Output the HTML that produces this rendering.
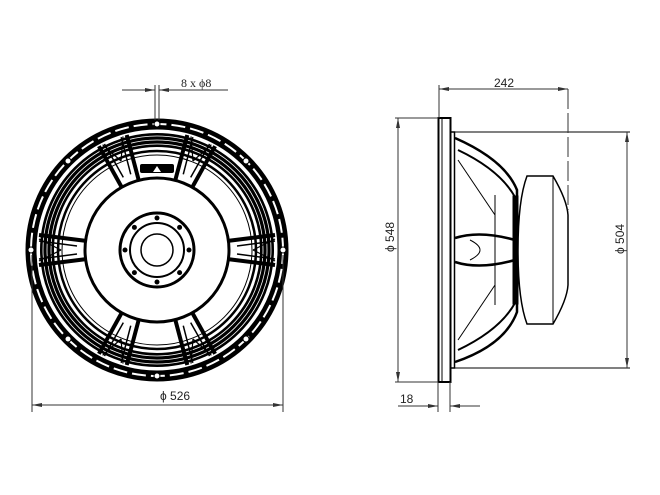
<!DOCTYPE html>
<html><head><meta charset="utf-8"><style>
html,body{margin:0;padding:0;background:#fff;}
svg{display:block;}
text{font-family:"Liberation Sans",sans-serif;font-size:12px;fill:#222;}
</style></head><body>
<svg width="660" height="495" viewBox="0 0 660 495" xmlns="http://www.w3.org/2000/svg">
<defs>
<marker id="a" viewBox="0 0 10 6" refX="10" refY="3" markerWidth="10" markerHeight="6" orient="auto-start-reverse" markerUnits="userSpaceOnUse"><path d="M0,1 L10,3 L0,5 z" fill="#333"/></marker>
<g id="spoke">
<line x1="70" y1="-9" x2="118" y2="-15" stroke="#000" stroke-width="4"/>
<line x1="70" y1="9" x2="118" y2="15" stroke="#000" stroke-width="4"/>
<line x1="80" y1="-4" x2="118" y2="-9" stroke="#000" stroke-width="1.5"/>
<line x1="80" y1="4" x2="118" y2="9" stroke="#000" stroke-width="1.5"/>
<line x1="96" y1="0" x2="118" y2="-11" stroke="#000" stroke-width="1.2"/>
<line x1="96" y1="0" x2="118" y2="11" stroke="#000" stroke-width="1.2"/>
</g>
</defs>
<g transform="translate(157,250)">
<circle r="126" fill="none" stroke="#000" stroke-width="11"/>
<circle r="126" fill="none" stroke="#fff" stroke-width="2" stroke-dasharray="14 5"/>
<circle r="110" fill="none" stroke="#000" stroke-width="14"/>
<circle r="114" fill="none" stroke="#fff" stroke-width="0.8"/>
<circle r="110" fill="none" stroke="#fff" stroke-width="0.8"/>
<circle r="106" fill="none" stroke="#fff" stroke-width="0.8"/>
<circle r="99" fill="none" stroke="#000" stroke-width="2.5"/>
<circle r="95" fill="none" stroke="#000" stroke-width="1"/>
<use href="#spoke" transform="rotate(0)"/>
<use href="#spoke" transform="rotate(180)"/>
<use href="#spoke" transform="rotate(-68)"/>
<use href="#spoke" transform="rotate(-112)"/>
<use href="#spoke" transform="rotate(68)"/>
<use href="#spoke" transform="rotate(112)"/>
<circle r="72" fill="#fff" stroke="#000" stroke-width="3"/>
<circle r="37" fill="none" stroke="#000" stroke-width="3"/>
<circle r="27" fill="none" stroke="#000" stroke-width="2"/>
<circle r="16" fill="none" stroke="#000" stroke-width="1.5"/>
<g fill="#000">
<circle cx="0" cy="-32" r="2.5"/><circle cx="0" cy="32" r="2.5"/><circle cx="-32" cy="0" r="2.5"/><circle cx="32" cy="0" r="2.5"/>
<circle cx="22.6" cy="22.6" r="2.5"/><circle cx="-22.6" cy="22.6" r="2.5"/><circle cx="22.6" cy="-22.6" r="2.5"/><circle cx="-22.6" cy="-22.6" r="2.5"/>
</g>
<rect x="-17" y="-86" width="34" height="9" rx="2" fill="#000"/>
<path d="M-4,-78 L0,-84 L4,-78z" fill="#fff"/>
<g fill="#fff" stroke="#000" stroke-width="1">
<circle cx="0" cy="-126" r="3"/><circle cx="0" cy="126" r="3"/><circle cx="-126" cy="0" r="3"/><circle cx="126" cy="0" r="3"/>
<circle cx="89" cy="89" r="3"/><circle cx="-89" cy="89" r="3"/><circle cx="89" cy="-89" r="3"/><circle cx="-89" cy="-89" r="3"/>
</g>
</g>
<g stroke="#333" stroke-width="1" fill="none">
<line x1="155" y1="85" x2="155" y2="120"/><line x1="159" y1="85" x2="159" y2="120"/>
<line x1="122" y1="90" x2="155" y2="90" marker-end="url(#a)"/>
<line x1="192" y1="90" x2="159" y2="90" marker-end="url(#a)"/>
<line x1="180" y1="90" x2="228" y2="90"/>
<line x1="32" y1="255" x2="32" y2="412"/><line x1="283" y1="255" x2="283" y2="412"/>
<line x1="32" y1="405" x2="283" y2="405" marker-start="url(#a)" marker-end="url(#a)"/>
</g>
<text x="181" y="87" style="font-family:'Liberation Serif',serif">8 x ϕ8</text>
<text x="160" y="400">ϕ 526</text>
<g stroke="#000" fill="none">
<rect x="438.5" y="118" width="12" height="264" stroke-width="2"/>
<line x1="442" y1="118" x2="442" y2="382" stroke-width="1"/>
<rect x="450.5" y="132" width="4" height="236" stroke-width="1.5"/>
<line x1="454" y1="132" x2="630" y2="132" stroke-width="1"/>
<line x1="454" y1="368" x2="630" y2="368" stroke-width="1"/>
<path d="M455,138 Q505,160 517,190 L517,312 Q505,345 455,362" stroke-width="2.5"/>
<path d="M458,150 Q500,170 515,197" stroke-width="2"/>
<path d="M458,350 Q500,330 515,303" stroke-width="2"/>
<path d="M458,160 L495,215" stroke-width="1"/>
<path d="M458,340 L495,285" stroke-width="1"/>
<path d="M455,238 Q480,230 515,240 L515,260 Q480,270 455,262" stroke-width="2.5"/>
<path d="M470,240 Q490,250 470,260" stroke-width="1"/>
<line x1="495" y1="195" x2="495" y2="305" stroke-width="1"/>
<rect x="513" y="196" width="5" height="108" fill="#000"/>
<path d="M527,176 L553,176 Q567,200 568,215 L568,285 Q567,300 553,324 L527,324 Q518,300 518,250 Q518,200 527,176z" stroke-width="1.5"/>
<line x1="553" y1="176" x2="553" y2="324" stroke-width="1"/>
</g>
<g stroke="#333" stroke-width="1" fill="none">
<line x1="439" y1="85" x2="439" y2="118"/>
<line x1="439" y1="89" x2="568" y2="89" marker-start="url(#a)" marker-end="url(#a)"/>
<line x1="568" y1="89" x2="568" y2="210" stroke-dasharray="20 4"/>
<line x1="395" y1="118" x2="438" y2="118"/><line x1="395" y1="382" x2="438" y2="382"/>
<line x1="398" y1="118" x2="398" y2="382" marker-start="url(#a)" marker-end="url(#a)"/>
<line x1="627" y1="132" x2="627" y2="368" marker-start="url(#a)" marker-end="url(#a)"/>
<line x1="438" y1="382" x2="438" y2="412"/><line x1="450" y1="382" x2="450" y2="412"/>
<line x1="398" y1="406" x2="438" y2="406" marker-end="url(#a)"/>
<line x1="480" y1="406" x2="450" y2="406" marker-end="url(#a)"/>
</g>
<text x="494" y="87">242</text>
<text transform="translate(394,252) rotate(-90)">ϕ 548</text>
<text transform="translate(624,254) rotate(-90)">ϕ 504</text>
<text x="400" y="403">18</text>
</svg>
</body></html>
